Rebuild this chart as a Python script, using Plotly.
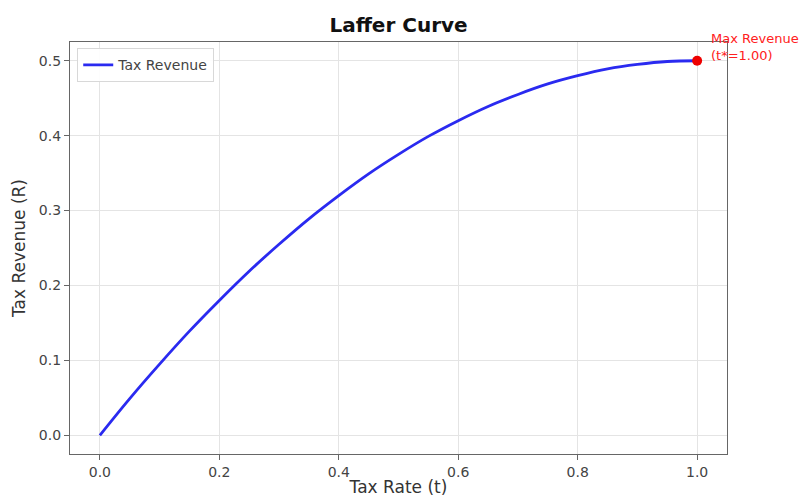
import plotly.graph_objects as go

tax_rate = [0.0, 0.05, 0.10, 0.15, 0.20, 0.25, 0.30, 0.35, 0.40, 0.45, 0.50,
            0.55, 0.60, 0.65, 0.70, 0.75, 0.80, 0.85, 0.90, 0.95, 1.0]
revenue = [0.0, 0.049, 0.095, 0.139, 0.180, 0.219, 0.255, 0.289, 0.320, 0.349, 0.375,
           0.399, 0.420, 0.439, 0.455, 0.469, 0.480, 0.489, 0.495, 0.499, 0.500]
max_t = [1.0]
max_r = [0.5]
x_ticks = [0.0, 0.2, 0.4, 0.6, 0.8, 1.0]
y_ticks = [0.0, 0.1, 0.2, 0.3, 0.4, 0.5]

font = "DejaVu Sans, Arial, sans-serif"

fig = go.Figure()
fig.add_trace(go.Scatter(x=tax_rate, y=revenue, mode="lines", name="Tax Revenue",
                         line=dict(color="#2a2af0", width=2.8, shape="spline")))
fig.add_trace(go.Scatter(x=max_t, y=max_r, mode="markers", showlegend=False,
                         marker=dict(color="#ee0000", size=10), cliponaxis=False))

fig.add_annotation(x=1.02, y=0.5, xref="x", yref="y", text="Max Revenue<br>(t*=1.00)",
                   showarrow=False, xanchor="left", yanchor="middle", align="left",
                   yshift=14, font=dict(color="#ff2020", size=13, family=font))

axis_common = dict(showline=True, linecolor="#666666", linewidth=1.3, mirror=True,
                   ticks="outside", ticklen=5, tickcolor="#666666", tickwidth=1.2,
                   showgrid=True, gridcolor="#e4e4e4", gridwidth=1, zeroline=False,
                   automargin=False,
                   tickfont=dict(size=14, color="#444444", family=font))

fig.update_layout(
    width=804, height=497,
    margin=dict(l=70, r=77, t=42, b=43),
    paper_bgcolor="white", plot_bgcolor="white",
    title=dict(text="<b>Laffer Curve</b>", x=0.4957, xanchor="center", y=0.95, yanchor="middle",
               font=dict(size=20, color="#111111", family=font)),
    xaxis=dict(range=[-0.05, 1.05], tickvals=x_ticks, ticktext=[f"{v:.1f}" for v in x_ticks],
               title=dict(text="Tax Rate (t)", font=dict(size=17, color="#333333", family=font), standoff=6),
               **axis_common),
    yaxis=dict(range=[-0.025, 0.525], tickvals=y_ticks, ticktext=[f"{v:.1f}" for v in y_ticks],
               title=dict(text="Tax Revenue (R)", font=dict(size=17, color="#333333", family=font), standoff=8),
               **axis_common),
    legend=dict(x=0.011, y=0.985, xanchor="left", yanchor="top",
                bgcolor="rgba(255,255,255,0.9)", bordercolor="#d8d8d8", borderwidth=1,
                font=dict(size=14, color="#444444", family=font)),
    showlegend=True,
)

fig.write_html("out.html", post_script="document.body.style.margin='0';",
               config={"displayModeBar": False})
